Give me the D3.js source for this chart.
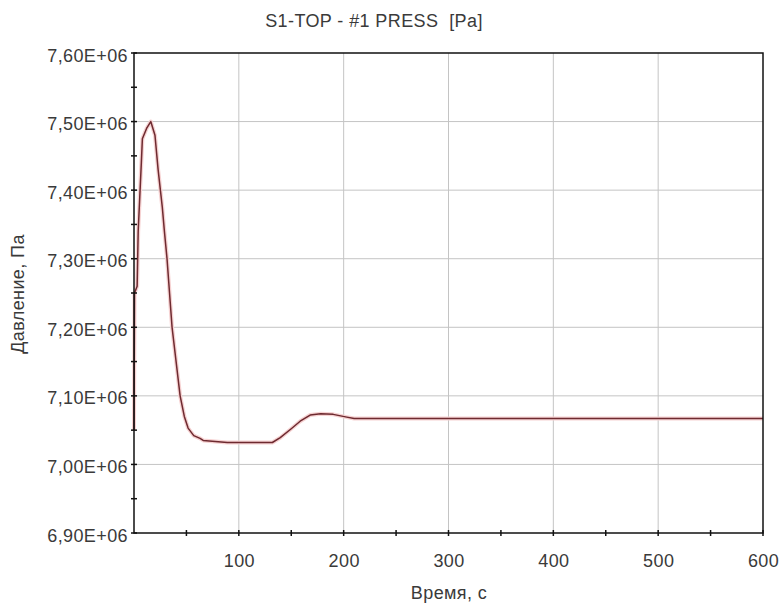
<!DOCTYPE html>
<html>
<head>
<meta charset="utf-8">
<script src="https://cdn.jsdelivr.net/npm/d3@7"></script>
<style>
  body { margin: 0; background: #fff; }
  text { font-family: 'Liberation Sans', Arial, sans-serif; fill: #3a3a3a; letter-spacing: 0.4px; }
</style>
</head>
<body>
<div id="chart"></div>
<script>
// time, s
const time = [0, 0.5, 3, 4, 5.5, 7, 8, 12, 16, 20, 23, 27, 29, 31.5, 36.3, 44, 48, 51.6, 57, 63, 66, 89, 132, 139.5, 150, 158.5, 168, 178, 190, 203, 210, 600];
// pressure, Pa
const press = [7.05e6, 7.25e6, 7.26e6, 7.34e6, 7.39e6, 7.44e6, 7.475e6, 7.49e6, 7.50e6, 7.48e6, 7.43e6, 7.375e6, 7.34e6, 7.30e6, 7.20e6, 7.10e6, 7.07e6, 7.053e6, 7.042e6, 7.038e6, 7.035e6, 7.032e6, 7.032e6, 7.039e6, 7.052e6, 7.063e6, 7.072e6, 7.074e6, 7.073e6, 7.069e6, 7.067e6, 7.067e6];

const xTicks = [100, 200, 300, 400, 500, 600];
const xMinor = [50, 150, 250, 350, 450, 550];
const yTicks = [6.9e6, 7.0e6, 7.1e6, 7.2e6, 7.3e6, 7.4e6, 7.5e6, 7.6e6];
const yMinor = [6.95e6, 7.05e6, 7.15e6, 7.25e6, 7.35e6, 7.45e6, 7.55e6];

const data = time.map((t, i) => ({ t, p: press[i] }));

const svgWidth = 781;
const svgHeight = 606;
const margin = { top: 53, left: 134, bottom: 73, right: 18 };

const svg = d3
    .select('#chart')
    .append('svg')
    .attr('width', svgWidth)
    .attr('height', svgHeight);

const x = d3.scaleLinear().domain([0, 600]).range([margin.left, svgWidth - margin.right]);
const y = d3.scaleLinear().domain([6.9e6, 7.6e6]).range([svgHeight - margin.bottom, margin.top]);

const fmt = v => (v / 1e6).toFixed(2).replace('.', ',') + 'E+06';

// grid
svg.append('g')
    .selectAll('line')
    .data(xTicks.slice(0, -1))
    .enter()
    .append('line')
    .attr('x1', d => x(d))
    .attr('x2', d => x(d))
    .attr('y1', y.range()[1])
    .attr('y2', y.range()[0])
    .attr('stroke', '#c4c4c4');

svg.append('g')
    .selectAll('line')
    .data(yTicks.slice(1, -1))
    .enter()
    .append('line')
    .attr('x1', x.range()[0])
    .attr('x2', x.range()[1])
    .attr('y1', d => y(d))
    .attr('y2', d => y(d))
    .attr('stroke', '#c4c4c4');

// line
const line = d3.line().x(d => x(d.t)).y(d => y(d.p));
svg.append('path')
    .datum(data)
    .attr('fill', 'none')
    .attr('stroke', '#f6d2d2')
    .attr('stroke-width', 4)
    .attr('stroke-linejoin', 'round')
    .attr('d', line);
svg.append('path')
    .datum(data)
    .attr('fill', 'none')
    .attr('stroke', '#6e2a30')
    .attr('stroke-width', 1.5)
    .attr('stroke-linejoin', 'round')
    .attr('d', line);

// frame
svg.append('rect')
    .attr('x', x.range()[0])
    .attr('y', y.range()[1])
    .attr('width', x.range()[1] - x.range()[0])
    .attr('height', y.range()[0] - y.range()[1])
    .attr('fill', 'none')
    .attr('stroke', '#111')
    .attr('stroke-width', 1.5);

// axes
const xAxis = svg
    .append('g')
    .attr('transform', `translate(0, ${y.range()[0]})`)
    .call(d3.axisBottom(x).tickValues(xTicks).tickSize(0).tickPadding(21).tickFormat(d3.format('d')));
xAxis.select('.domain').remove();
xAxis.selectAll('text').style('font-size', '18px').style('fill', '#3a3a3a');

const yAxis = svg
    .append('g')
    .attr('transform', `translate(${x.range()[0]}, 0)`)
    .call(d3.axisLeft(y).tickValues(yTicks).tickSize(0).tickPadding(6).tickFormat(fmt));
yAxis.select('.domain').remove();
yAxis.selectAll('text').attr('dy', '0.45em').style('font-size', '18px').style('fill', '#3a3a3a');

// tick marks crossing the axes
svg.append('g')
    .selectAll('line')
    .data(xTicks.concat(xMinor))
    .enter()
    .append('line')
    .attr('x1', d => x(d))
    .attr('x2', d => x(d))
    .attr('y1', y.range()[0] - 3)
    .attr('y2', y.range()[0] + 3)
    .attr('stroke', '#111')
    .attr('stroke-width', 1.5);

svg.append('g')
    .selectAll('line')
    .data(yTicks.concat(yMinor))
    .enter()
    .append('line')
    .attr('x1', x.range()[0] - 3)
    .attr('x2', x.range()[0] + 3)
    .attr('y1', d => y(d))
    .attr('y2', d => y(d))
    .attr('stroke', '#111')
    .attr('stroke-width', 1.5);

// titles
svg.append('text')
    .attr('x', 374)
    .attr('y', 27)
    .attr('text-anchor', 'middle')
    .style('font-size', '18px')
    .style('white-space', 'pre')
    .text('S1-TOP - #1 PRESS  [Pa]');

svg.append('text')
    .attr('x', 449)
    .attr('y', 599)
    .attr('text-anchor', 'middle')
    .style('font-size', '18px')
    .text('Время, с');

svg.append('text')
    .attr('transform', 'translate(24, 294) rotate(-90)')
    .attr('text-anchor', 'middle')
    .style('font-size', '18px')
    .text('Давление, Па');
</script>
</body>
</html>
